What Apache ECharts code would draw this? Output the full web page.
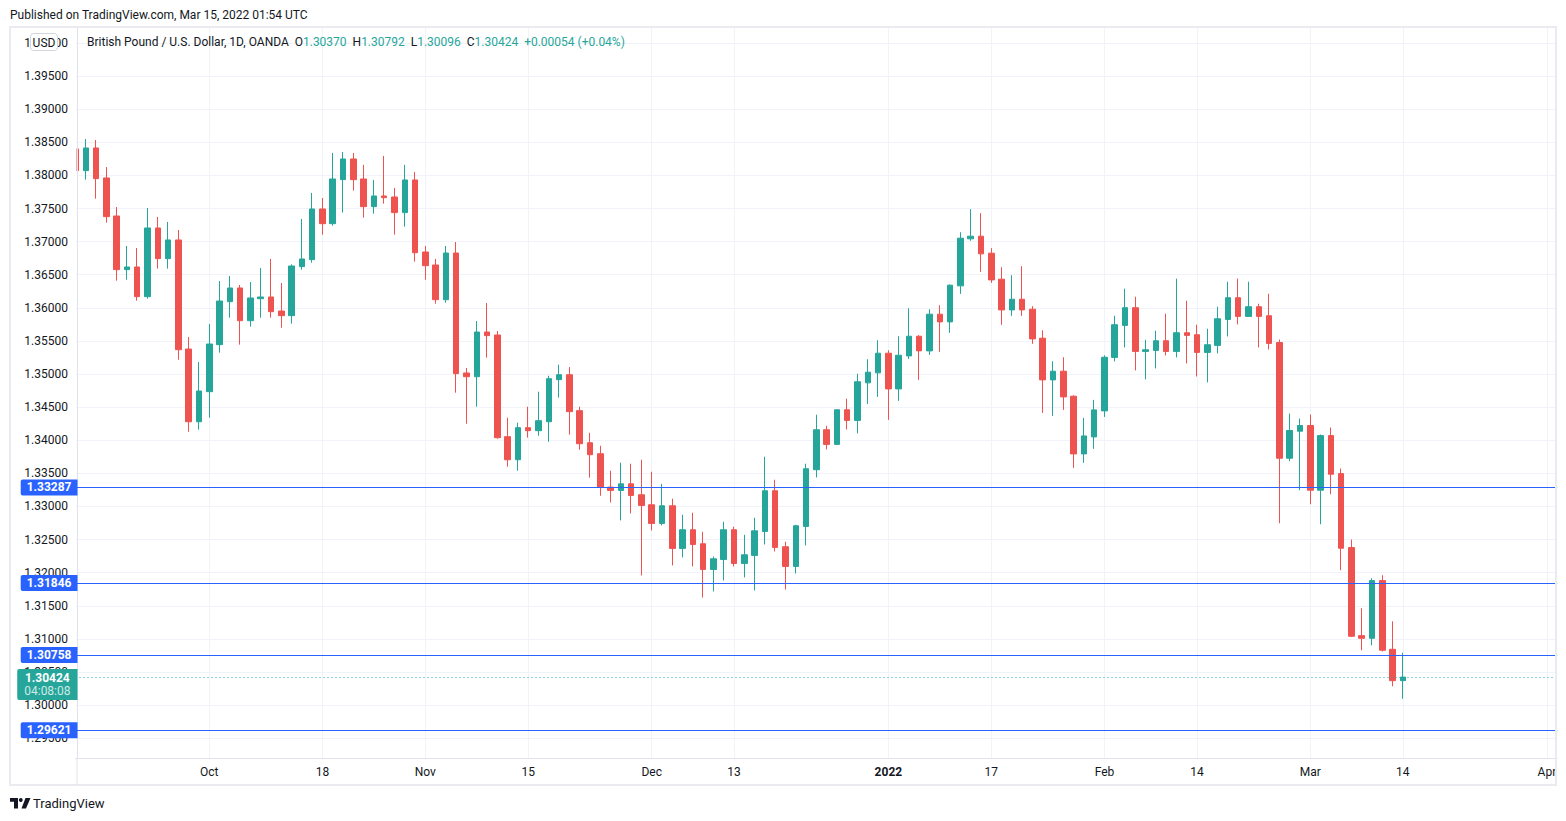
<!DOCTYPE html>
<html>
<head>
<meta charset="utf-8">
<script src="https://cdn.jsdelivr.net/npm/echarts@6/dist/echarts.min.js"></script>
<style>
html,body{margin:0;padding:0;background:#ffffff;}
#chart{width:1566px;height:821px;}
</style>
</head>
<body>
<div id="chart"></div>
<script>
// ---------- data ----------
const categories = [
'2021-09-14','2021-09-15','2021-09-16','2021-09-17','2021-09-20','2021-09-21','2021-09-22','2021-09-23','2021-09-24','2021-09-27','2021-09-28','2021-09-29','2021-09-30',
'2021-10-01','2021-10-04','2021-10-05','2021-10-06','2021-10-07','2021-10-08','2021-10-11','2021-10-12','2021-10-13','2021-10-14','2021-10-15','2021-10-18','2021-10-19','2021-10-20','2021-10-21','2021-10-22','2021-10-25','2021-10-26','2021-10-27','2021-10-28','2021-10-29',
'2021-11-01','2021-11-02','2021-11-03','2021-11-04','2021-11-05','2021-11-08','2021-11-09','2021-11-10','2021-11-11','2021-11-12','2021-11-15','2021-11-16','2021-11-17','2021-11-18','2021-11-19','2021-11-22','2021-11-23','2021-11-24','2021-11-25','2021-11-26','2021-11-29','2021-11-30',
'2021-12-01','2021-12-02','2021-12-03','2021-12-06','2021-12-07','2021-12-08','2021-12-09','2021-12-10','2021-12-13','2021-12-14','2021-12-15','2021-12-16','2021-12-17','2021-12-20','2021-12-21','2021-12-22','2021-12-23','2021-12-24','2021-12-27','2021-12-28','2021-12-29','2021-12-30','2021-12-31',
'2022-01-03','2022-01-04','2022-01-05','2022-01-06','2022-01-07','2022-01-10','2022-01-11','2022-01-12','2022-01-13','2022-01-14','2022-01-17','2022-01-18','2022-01-19','2022-01-20','2022-01-21','2022-01-24','2022-01-25','2022-01-26','2022-01-27','2022-01-28','2022-01-31',
'2022-02-01','2022-02-02','2022-02-03','2022-02-04','2022-02-07','2022-02-08','2022-02-09','2022-02-10','2022-02-11','2022-02-14','2022-02-15','2022-02-16','2022-02-17','2022-02-18','2022-02-21','2022-02-22','2022-02-23','2022-02-24','2022-02-25','2022-02-28',
'2022-03-01','2022-03-02','2022-03-03','2022-03-04','2022-03-07','2022-03-08','2022-03-09','2022-03-10','2022-03-11','2022-03-14','2022-03-15','2022-03-16','2022-03-17','2022-03-18','2022-03-21','2022-03-22','2022-03-23','2022-03-24','2022-03-25','2022-03-28','2022-03-29','2022-03-30','2022-03-31',
'2022-04-01','2022-04-04'
];

const opens = [
1.38400,1.38072,1.38414,1.37961,1.37387,1.36577,1.36617,1.36169,1.37206,1.36743,
1.37025,1.35378,1.34280,1.34734,1.35444,1.36093,1.36300,1.35806,1.36138,1.36164,
1.35952,1.35882,1.36622,1.36728,1.37493,1.37271,1.37936,1.38248,1.37946,1.37528,
1.37689,1.37674,1.37438,1.37931,1.36843,1.36647,1.36123,1.36828,1.35016,1.34960,
1.35635,1.35590,1.34054,1.33706,1.34190,1.34145,1.34280,1.34915,1.34990,1.34447,
1.33963,1.33797,1.33293,1.33243,1.33343,1.33177,1.33026,1.32744,1.33011,1.32367,
1.32649,1.32437,1.32049,1.32200,1.32649,1.32140,1.32261,1.32623,1.33238,1.32392,
1.32095,1.32699,1.33555,1.34159,1.33938,1.34461,1.34300,1.34867,1.35018,1.35315,
1.34776,1.35274,1.35571,1.35350,1.35904,1.35788,1.36332,1.37042,1.37082,1.36825,
1.36433,1.35969,1.36130,1.35979,1.35541,1.34912,1.35043,1.34665,1.33794,1.34051,
1.34444,1.35251,1.35735,1.36002,1.35342,1.35357,1.35503,1.35342,1.35624,1.35594,
1.35327,1.35433,1.35825,1.36153,1.35871,1.36017,1.35881,1.35476,1.33729,1.34137,
1.34223,1.33246,1.34071,1.33497,1.32380,1.31050,1.31010,1.31881,1.30844,1.30370
];
const highs = [
1.38550,1.38550,1.38535,1.38127,1.37523,1.36934,1.36904,1.37508,1.37372,1.37297,
1.37176,1.35559,1.35182,1.35756,1.36405,1.36481,1.36345,1.36390,1.36602,1.36738,
1.36375,1.36657,1.37342,1.37735,1.37659,1.38339,1.38354,1.38339,1.38158,1.37931,
1.38294,1.37810,1.38158,1.38052,1.36934,1.36738,1.36934,1.36994,1.35091,1.35801,
1.36073,1.35650,1.34341,1.34265,1.34507,1.34734,1.34975,1.35142,1.35106,1.34507,
1.34114,1.33917,1.33540,1.33661,1.33646,1.33706,1.33525,1.33343,1.33117,1.32875,
1.32905,1.32618,1.32246,1.32769,1.32694,1.32573,1.32830,1.33751,1.33404,1.32467,
1.32724,1.33646,1.34386,1.34220,1.34461,1.34627,1.35005,1.35224,1.35511,1.35360,
1.35571,1.35994,1.35587,1.35979,1.36040,1.36352,1.37142,1.37490,1.37430,1.36901,
1.36614,1.36493,1.36629,1.36025,1.35662,1.35194,1.35254,1.34680,1.34338,1.34610,
1.35284,1.35881,1.36289,1.36168,1.35518,1.35654,1.35911,1.36440,1.36107,1.35745,
1.35684,1.36017,1.36394,1.36440,1.36394,1.36062,1.36213,1.35522,1.34404,1.34328,
1.34389,1.34087,1.34192,1.33573,1.32501,1.31463,1.31916,1.31962,1.31267,1.30792
];
const lows = [
1.37950,1.37936,1.37649,1.37287,1.36410,1.36425,1.36108,1.36138,1.36592,1.36592,
1.35217,1.34129,1.34160,1.34341,1.35323,1.35851,1.35444,1.35716,1.35851,1.35851,
1.35700,1.35761,1.36577,1.36682,1.37105,1.37241,1.37438,1.37770,1.37362,1.37422,
1.37574,1.37105,1.37226,1.36697,1.36425,1.36063,1.36078,1.34719,1.34250,1.34507,
1.35247,1.34024,1.33601,1.33540,1.34039,1.34069,1.33978,1.34643,1.34084,1.33857,
1.33435,1.33162,1.33061,1.32790,1.32895,1.31959,1.32638,1.32714,1.32110,1.32231,
1.32095,1.31626,1.31717,1.31883,1.32095,1.31929,1.31732,1.32427,1.32321,1.31747,
1.31989,1.32412,1.33439,1.33862,1.33938,1.34164,1.34104,1.34549,1.34655,1.34308,
1.34595,1.35229,1.34912,1.35290,1.35335,1.35622,1.36211,1.37012,1.36543,1.36377,
1.35743,1.35879,1.35879,1.35456,1.34413,1.34368,1.34459,1.33583,1.33658,1.33870,
1.34353,1.35191,1.35402,1.35055,1.34919,1.35085,1.35281,1.35251,1.35161,1.34964,
1.34874,1.35312,1.35568,1.35750,1.35871,1.35402,1.35372,1.32747,1.33684,1.33246,
1.33034,1.32732,1.33185,1.32037,1.31030,1.30829,1.30904,1.30810,1.30285,1.30096
];
const closes = [
1.38072,1.38414,1.37951,1.37377,1.36577,1.36617,1.36169,1.37206,1.36743,1.37025,
1.35368,1.34280,1.34744,1.35454,1.36103,1.36300,1.35806,1.36149,1.36164,1.35942,
1.35882,1.36632,1.36738,1.37493,1.37271,1.37946,1.38248,1.37936,1.37528,1.37689,
1.37664,1.37438,1.37931,1.36833,1.36637,1.36123,1.36828,1.35006,1.34960,1.35635,
1.35580,1.34039,1.33706,1.34190,1.34145,1.34296,1.34930,1.34990,1.34432,1.33948,
1.33782,1.33288,1.33243,1.33343,1.33167,1.33016,1.32744,1.33011,1.32367,1.32649,
1.32427,1.32049,1.32210,1.32649,1.32140,1.32271,1.32633,1.33238,1.32382,1.32095,
1.32709,1.33570,1.34159,1.33938,1.34461,1.34300,1.34884,1.35028,1.35315,1.34776,
1.35284,1.35571,1.35350,1.35904,1.35788,1.36342,1.37052,1.37082,1.36815,1.36422,
1.35969,1.36130,1.35969,1.35531,1.34912,1.35043,1.34655,1.33794,1.34066,1.34459,
1.35254,1.35745,1.36002,1.35342,1.35367,1.35503,1.35342,1.35624,1.35584,1.35327,
1.35443,1.35835,1.36153,1.35871,1.36017,1.35871,1.35463,1.33729,1.34147,1.34223,
1.33246,1.34071,1.33487,1.32370,1.31040,1.31010,1.31881,1.30829,1.30370,1.30424
];

const levelLines = [1.33287, 1.31846, 1.30758, 1.29621];
const countdownText = '04:08:08';
const tickDates = ['2021-10-01','2021-10-18','2021-11-01','2021-11-15','2021-12-01','2021-12-13','2022-01-03','2022-01-17','2022-02-01','2022-02-14','2022-03-01','2022-03-14','2022-04-01'];
const tickTexts = ['Oct','18','Nov','15','Dec','13','2022','17','Feb','14','Mar','14','Apr'];
const priceStep = 0.005;
const yMin = 1.29202, yMax = 1.40241;
const symbolName = 'British Pound / U.S. Dollar, 1D, OANDA';
const publishedText = 'Published on TradingView.com, Mar 15, 2022 01:54 UTC';

// ---------- build ----------
const UP = '#26a69a', DOWN = '#ef5350', BLUE = '#2962ff';
const FONT = "Roboto, 'Noto Sans', 'DejaVu Sans', sans-serif";
const TXT = '#131722';
const ohlc = opens.map((o, i) => [o, closes[i], lows[i], highs[i]]);
const tickMap = new Map(tickDates.map((d, i) => [d, tickTexts[i]]));
const n = closes.length;
const lastO = opens[n-1], lastH = highs[n-1], lastL = lows[n-1], lastC = closes[n-1];
const chg = lastC - closes[n-2];
const sign = chg >= 0 ? '+' : '\u2212';
const pct = Math.abs(chg) / closes[n-2] * 100;
const f5 = v => v.toFixed(5);

const legendText = `{n|${symbolName}}  {n|O}{g|${f5(lastO)}}  {n|H}{g|${f5(lastH)}}  {n|L}{g|${f5(lastL)}}  {n|C}{g|${f5(lastC)}}  {g|${sign}${f5(Math.abs(chg))} (${sign}${pct.toFixed(2)}%)}`;

const chart = echarts.init(document.getElementById('chart'), null, {renderer: 'svg'});

const markPoints = levelLines.map(v => ({
  coord: [categories[0], v],
  symbol: 'rect', symbolSize: 0,
  label: {
    show: true, position: 'left', distance: 0, offset: [2, 0],
    formatter: f5(v), color: '#ffffff', fontWeight: 'bold', fontSize: 12, fontFamily: FONT,
    backgroundColor: BLUE, padding: [2, 6, 1, 6], borderRadius: [2, 0, 0, 2], lineHeight: 13
  }
}));
markPoints.push({
  coord: [categories[0], lastC],
  symbol: 'rect', symbolSize: 0,
  label: {
    show: true, position: 'left', distance: 0, offset: [2, 7.5],
    formatter: `{p|${f5(lastC)}}\n{t|${countdownText}}`,
    backgroundColor: UP, padding: [2, 7, 3, 7], borderRadius: [2, 0, 0, 2],
    rich: {
      p: {color: '#ffffff', fontWeight: 'bold', fontSize: 12, fontFamily: FONT, lineHeight: 13, align: 'center'},
      t: {color: 'rgba(255,255,255,0.78)', fontSize: 12, fontFamily: FONT, lineHeight: 13, align: 'center'}
    }
  }
});

const yCommon = {type: 'value', position: 'left', min: yMin, max: yMax, scale: true,
  minInterval: priceStep, maxInterval: priceStep, splitNumber: 22};

const option = {
  animation: false,
  backgroundColor: '#ffffff',
  textStyle: {fontFamily: FONT},
  grid: {left: 75.5, right: 8.8, top: 27, bottom: 63, containLabel: false},
  xAxis: {
    type: 'category', data: categories, boundaryGap: false,
    axisLine: {show: true, lineStyle: {color: '#e0e3eb', width: 1}},
    axisTick: {show: false},
    axisLabel: {
      interval: (i, v) => tickMap.has(v),
      formatter: v => { const t = tickMap.get(v) || ''; return /^\d{4}$/.test(t) ? `{b|${t}}` : t; },
      color: TXT, fontSize: 12, fontFamily: FONT, margin: 8,
      rich: {b: {fontWeight: 'bold', fontSize: 12, color: TXT, fontFamily: FONT}}
    },
    splitLine: {show: true, interval: (i, v) => tickMap.has(v), lineStyle: {color: '#f0f3fa', width: 1}}
  },
  yAxis: [
    Object.assign({}, yCommon, {
      axisLine: {show: false}, axisTick: {show: false}, axisLabel: {show: false},
      splitLine: {show: true, lineStyle: {color: '#f0f3fa', width: 1}}
    }),
    Object.assign({}, yCommon, {
      z: 3, offset: -1.5,
      axisLine: {show: true, lineStyle: {color: '#e0e3eb', width: 1}},
      axisTick: {show: false},
      axisLabel: {
        color: TXT, fontSize: 12, fontFamily: FONT, margin: 9,
        formatter: v => (Math.abs(Math.round(v / priceStep) * priceStep - v) < 1e-7 ? v.toFixed(5) : '')
      },
      splitLine: {show: false}
    })
  ],
  series: [
    {
      type: 'candlestick', data: ohlc, barWidth: 6, clip: true, yAxisIndex: 0,
      itemStyle: {color: UP, color0: DOWN, borderColor: UP, borderColor0: DOWN, borderWidth: 1}
    },
    {
      type: 'line', data: [], clip: false, silent: true, symbol: 'none', yAxisIndex: 0, z: 4,
      markLine: {
        silent: true, symbol: 'none', animation: false, precision: 5, label: {show: false}, z: 4,
        data: levelLines.map(v => ({yAxis: v, lineStyle: {color: BLUE, width: 1, type: 'solid'}}))
          .concat([{yAxis: lastC, lineStyle: {color: UP, width: 1, type: [1, 3]}}])
      },
      markPoint: {silent: true, animation: false, precision: 5, data: markPoints, z: 10}
    }
  ],
  graphic: [
    {type: 'rect', z: 2.5, silent: true, shape: {x: 11, y: 28, width: 65.5, height: 729}, style: {fill: '#ffffff'}},
    {type: 'text', z: 100, style: {x: 10, y: 15, text: publishedText, fill: TXT, fontSize: 12, fontFamily: FONT, verticalAlign: 'middle'}},
    {type: 'text', z: 100, style: {x: 87, y: 42, text: legendText, fontSize: 12, fontFamily: FONT, verticalAlign: 'middle', fill: TXT,
      rich: {n: {fill: TXT, color: TXT, fontSize: 12, fontFamily: FONT}, g: {fill: UP, color: UP, fontSize: 12, fontFamily: FONT}}}},
    {type: 'rect', z: 100, shape: {x: 30.5, y: 33.5, width: 27, height: 17, r: 3}, style: {fill: '#ffffff', stroke: '#d1d4dc', lineWidth: 1}},
    {type: 'text', z: 101, style: {x: 44, y: 42.5, text: 'USD', fill: TXT, fontSize: 12, fontFamily: FONT, align: 'center', verticalAlign: 'middle'}},
    {type: 'rect', z: 100, shape: {x: 10, y: 27, width: 1546, height: 758}, style: {fill: 'none', stroke: '#e9ebf0', lineWidth: 2}},
    {type: 'line', z: 100, shape: {x1: 77, y1: 758, x2: 77, y2: 785}, style: {stroke: '#e0e3eb', lineWidth: 1}},
    {type: 'polygon', z: 100, shape: {points: [[10,798],[18,798],[18,808.5],[14,808.5],[14,801.8],[10,801.8]]}, style: {fill: TXT}},
    {type: 'circle', z: 100, shape: {cx: 20.8, cy: 800, r: 1.9}, style: {fill: TXT}},
    {type: 'polygon', z: 100, shape: {points: [[25.5,798],[30.5,798],[26,808.5],[21.5,808.5]]}, style: {fill: TXT}},
    {type: 'text', z: 100, style: {x: 33, y: 803, text: 'TradingView', fill: TXT, fontSize: 13, fontFamily: FONT, verticalAlign: 'middle'}}
  ]
};
chart.setOption(option);
</script>
</body>
</html>
